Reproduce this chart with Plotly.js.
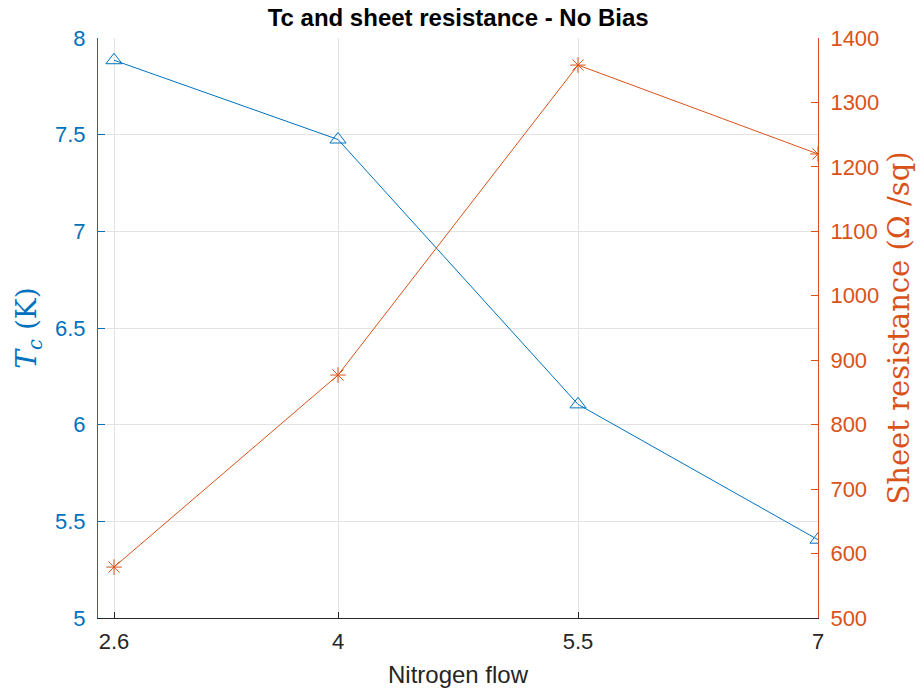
<!DOCTYPE html>
<html>
<head>
<meta charset="utf-8">
<script src="https://cdn.plot.ly/plotly-3.0.1.min.js"></script>
<style>html,body{margin:0;padding:0;background:#fff;}#chart{width:920px;height:690px;}</style>
</head>
<body>
<div id="chart"></div>
<script>
const nitrogenFlow = [2.6, 4, 5.5, 7];
const tcValues = [7.885, 7.475, 6.105, 5.405];
const sheetResistance = [579, 877, 1358, 1220];
const xTickVals = [2.6, 4, 5.5, 7];
const xTickText = ['2.6', '4', '5.5', '7'];
const leftTicks = [5, 5.5, 6, 6.5, 7, 7.5, 8];
const rightTicks = [500, 600, 700, 800, 900, 1000, 1100, 1200, 1300, 1400];

const blue = '#0072BD';
const orange = '#D95319';

const traces = [
  {
    x: nitrogenFlow, y: tcValues, type: 'scatter', mode: 'lines+markers',
    line: {color: blue, width: 1},
    marker: {symbol: 'triangle-up-open', size: 14, color: blue, line: {color: blue, width: 1}},
    yaxis: 'y', showlegend: false
  },
  {
    x: nitrogenFlow, y: sheetResistance, type: 'scatter', mode: 'lines+markers',
    line: {color: orange, width: 1},
    marker: {symbol: 'asterisk-open', size: 13, color: orange, line: {color: orange, width: 1}},
    yaxis: 'y2', showlegend: false
  }
];

const layout = {
  width: 920, height: 690,
  margin: {l: 98, r: 102, t: 38, b: 72},
  paper_bgcolor: '#fff', plot_bgcolor: '#fff',
  font: {family: 'Liberation Sans, Arial, sans-serif', size: 22, color: '#262626'},
  title: {text: '<b>Tc and sheet resistance - No Bias</b>', x: 0.498, xanchor: 'center', y: 0.974, yanchor: 'middle',
          font: {family: 'Liberation Sans, Arial, sans-serif', size: 24, color: '#000'}},
  xaxis: {
    range: [2.5, 7], tickvals: xTickVals, ticktext: xTickText,
    showgrid: true, gridcolor: '#e3e3e3', gridwidth: 1, zeroline: false,
    showline: true, linecolor: '#262626', linewidth: 1,
    ticks: 'inside', ticklen: 6, tickcolor: '#262626',
    ticklabelstandoff: 4,
    tickfont: {size: 22, color: '#262626'},
    title: {text: 'Nitrogen flow', font: {size: 24, color: '#262626'}, standoff: 12}
  },
  yaxis: {
    range: [5, 8], tickvals: leftTicks, ticktext: leftTicks.map(String),
    showgrid: true, gridcolor: '#e3e3e3', gridwidth: 1, zeroline: false,
    showline: true, linecolor: blue, linewidth: 1,
    ticks: 'inside', ticklen: 7, tickcolor: blue,
    ticklabelstandoff: 7,
    tickfont: {size: 22, color: blue},
    title: {text: '<i>T</i><sub><i>c</i></sub> (K)', font: {family: 'DejaVu Serif, Liberation Serif, serif', size: 28, color: blue}, standoff: 10}
  },
  yaxis2: {
    range: [500, 1400], tickvals: rightTicks, ticktext: rightTicks.map(String),
    overlaying: 'y', side: 'right', showgrid: false, zeroline: false,
    showline: true, linecolor: orange, linewidth: 1,
    ticks: 'inside', ticklen: 7, tickcolor: orange,
    ticklabelstandoff: 7,
    tickfont: {size: 22, color: orange},
    title: {text: 'Sheet resistance (Ω /sq)', font: {family: 'DejaVu Serif, Liberation Serif, serif', size: 29, color: orange}, standoff: 10}
  }
};

Plotly.newPlot('chart', traces, layout, {displayModeBar: false, staticPlot: true});
</script>
</body>
</html>
